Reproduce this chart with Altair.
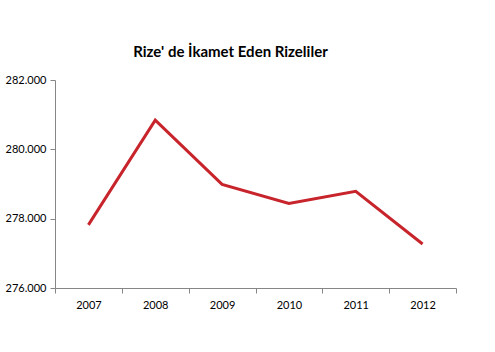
import altair as alt
import pandas as pd

years = ["2007", "2008", "2009", "2010", "2011", "2012"]
values = [277820, 280840, 278990, 278440, 278790, 277270]
y_ticks = [276000, 278000, 280000, 282000]

df = pd.DataFrame({"year": years, "value": values})

FONT = "Lato"
AXIS_COLOR = "#868686"

chart = alt.Chart(df).mark_line(color="#C8242B", strokeWidth=3).encode(
    x=alt.X(
        "year:N",
        bandPosition=0.5,
        scale=alt.Scale(type="band", paddingInner=0, paddingOuter=0),
        axis=alt.Axis(
            title=None, labelAngle=0, tickBand="extent", domainColor=AXIS_COLOR,
            tickColor=AXIS_COLOR, tickSize=5, labelFont=FONT, labelFontSize=11,
            labelColor="#000000", labelPadding=6, grid=False,
        ),
    ),
    y=alt.Y(
        "value:Q",
        scale=alt.Scale(domain=[276000, 282000], nice=False, zero=False),
        axis=alt.Axis(
            title=None, values=y_ticks, grid=False, domainColor=AXIS_COLOR,
            tickColor=AXIS_COLOR, tickSize=5, labelFont=FONT, labelFontSize=11,
            labelColor="#000000", labelPadding=4,
            labelExpr="replace(format(datum.value, ',d'), ',', '.')",
        ),
    ),
).properties(
    width=401,
    height=208,
    title=alt.TitleParams(
        "Rize' de İkamet Eden Rizeliler", font=FONT, fontSize=15, fontWeight="bold",
        color="#000000", anchor="middle", dx=-25, offset=14,
    ),
    autosize=alt.AutoSizeParams(type="none"),
    padding={"left": 55, "top": 80, "right": 39, "bottom": 64},
).configure_view(stroke=None)

chart.save("out.html", embed_options={"renderer": "svg", "actions": False})
